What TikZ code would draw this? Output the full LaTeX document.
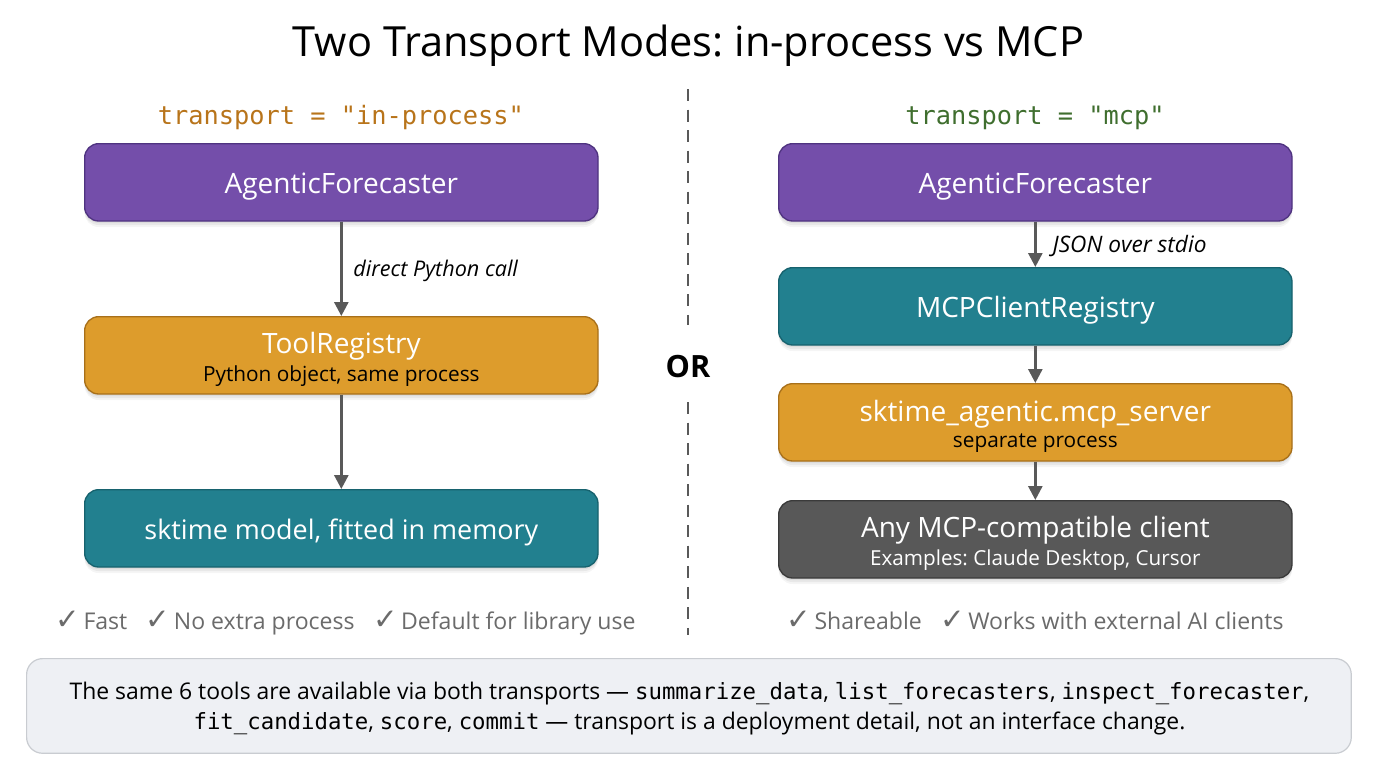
\documentclass[tikz,border=0pt]{standalone}
\usepackage{fontspec}
\usetikzlibrary{arrows.meta,shadows}
\setmainfont{Open Sans}
\setmonofont{DejaVu Sans Mono}
\newfontfamily\checkfont{DejaVu Sans}
\frenchspacing
\definecolor{cpurple}{HTML}{744EAA}
\definecolor{cpurpleD}{HTML}{4F3380}
\definecolor{cteal}{HTML}{22808F}
\definecolor{ctealD}{HTML}{17626E}
\definecolor{corange}{HTML}{DD9C2C}
\definecolor{corangeD}{HTML}{A8701A}
\definecolor{cgray}{HTML}{585858}
\definecolor{cgrayD}{HTML}{3A3A3A}
\definecolor{carrow}{HTML}{595959}
\definecolor{cnote}{HTML}{EEF0F4}
\definecolor{cnoteD}{HTML}{C9CCD1}
\definecolor{cin}{HTML}{B8741A}
\definecolor{cmcp}{HTML}{3F6E2E}
\definecolor{cpro}{HTML}{6B6B6B}
\newcommand{\mainlab}[2][21]{\rule{0pt}{22pt}{\fontsize{#1}{25}\selectfont #2}}
\newcommand{\sublab}[2][15.6]{{\fontsize{#1}{18}\selectfont #2}}
\newcommand{\ck}{{\checkfont\fontsize{22}{22}\selectfont ✓}\hspace{2.6pt}}
\newcommand{\mc}[1]{{\ttfamily\fontsize{16.75}{22}\selectfont #1}}
\tikzset{
  x=0.75pt,y=-0.75pt,
  softshadow/.style={
    general shadow={shadow xshift=0pt,shadow yshift=-1.5pt,fill=black,fill opacity=0.05},
    general shadow={shadow xshift=0pt,shadow yshift=-3pt,fill=black,fill opacity=0.05},
    general shadow={shadow xshift=0pt,shadow yshift=-4.5pt,fill=black,fill opacity=0.04}},
  flowbox/.style={rectangle,rounded corners=10.5pt,minimum width=385pt,minimum height=58pt,
    line width=1pt,text=white,align=center,inner sep=0pt,anchor=north west,softshadow},
  purplebox/.style={flowbox,fill=cpurple,draw=cpurpleD},
  tealbox/.style={flowbox,fill=cteal,draw=ctealD},
  orangebox/.style={flowbox,fill=corange,draw=corangeD},
  graybox/.style={flowbox,fill=cgray,draw=cgrayD},
  flow/.style={draw=carrow,line width=2pt,-{Triangle[length=10.5pt,width=10.5pt]},shorten >=0pt},
  edgelab/.style={font=\itshape\fontsize{16.2}{20}\selectfont,text=black,anchor=west,inner sep=0pt},
  codehead/.style={font=\ttfamily\fontsize{19}{23}\selectfont,inner sep=0pt},
  prolab/.style={font=\fontsize{17.3}{21}\selectfont,text=cpro,inner sep=0pt},
  divider/.style={draw=carrow,line width=1.8pt,dash pattern=on 9pt off 6.4pt},
}
\begin{document}
\begin{tikzpicture}
\useasboundingbox (0,0) rectangle (1376,768);
\fill[white] (0,0) rectangle (1376,768);
\node[font=\fontsize{31.15}{37}\selectfont,inner sep=0pt] (title) at (688.5,46) {Two Transport Modes: in-process vs MCP};
\node[codehead,text=cin] (headL) at (341,118) {transport = "in-process"};
\node[codehead,text=cmcp] (headR) at (1035,118) {transport = "mcp"};
% left column
\node[purplebox] (a1) at (84,143) {\mainlab{AgenticForecaster}};
\node[orangebox] (a2) at (84,316) {\mainlab{ToolRegistry}\\[3.5pt]\textcolor{black}{\sublab{Python object, same process}}};
\node[tealbox] (a3) at (84,489) {\mainlab[20.2]{sktime model, fitted in memory}};
\draw[flow] (a1.south) -- (a2.north) node[edgelab,pos=0.5,xshift=8pt,yshift=-1.5pt] (la) {direct Python call};
\draw[flow] (a2.south) -- (a3.north);
% right column
\node[purplebox] (b1) at (778,143) {\mainlab{AgenticForecaster}};
\node[tealbox] (b2) at (778,267) {\mainlab{MCPClientRegistry}};
\node[orangebox] (b3) at (778,383) {\mainlab{sktime\_agentic.mcp\_server}\\[3.5pt]\textcolor{black}{\sublab{separate process}}};
\node[graybox] (b4) at (778,500) {\mainlab{Any MCP-compatible client}\\[3.5pt]\sublab[15.5]{Examples: Claude Desktop, Cursor}};
\draw[flow] (b1.south) -- (b2.north) node[edgelab,font=\itshape\fontsize{17}{20}\selectfont,pos=0.5,xshift=12pt,yshift=-1.5pt] (lb) {JSON over stdio};
\draw[flow] (b2.south) -- (b3.north);
\draw[flow] (b3.south) -- (b4.north);
% divider
\coordinate (d1) at (688,89);
\coordinate (d2) at (688,325);
\coordinate (d3) at (688,402);
\coordinate (d4) at (688,635);
\draw[divider] (d1) -- (d2);
\draw[divider] (d3) -- (d4);
\node[font=\bfseries\fontsize{23}{27}\selectfont,inner sep=0pt] (or) at (688,367) {OR};
% pros
\node[prolab,anchor=base] (proL) at (345.5,629) {\ck Fast\hspace{0.8em}\ck No extra process\hspace{0.8em}\ck Default for library use};
\node[prolab,anchor=base] (proR) at (1035,629) {\ck Shareable\hspace{0.8em}\ck Works with external AI clients};
% note
\node[rectangle,rounded corners=12pt,fill=cnote,draw=cnoteD,line width=0.9pt,minimum width=993.5pt,minimum height=71pt,
  inner sep=0pt,anchor=north west] (note) at (26,658) {};
\node[inner sep=0pt,align=center,font=\fontsize{17.2}{22.8}\selectfont] (notetext) at (689.5,708.5)
 {The same 6 tools are available via both transports — \mc{summarize\_data}, \mc{list\_forecasters}, \mc{inspect\_forecaster},\\
 \mc{fit\_candidate}, \mc{score}, \mc{commit} — transport is a deployment detail, not an interface change.};
\end{tikzpicture}
\end{document}
